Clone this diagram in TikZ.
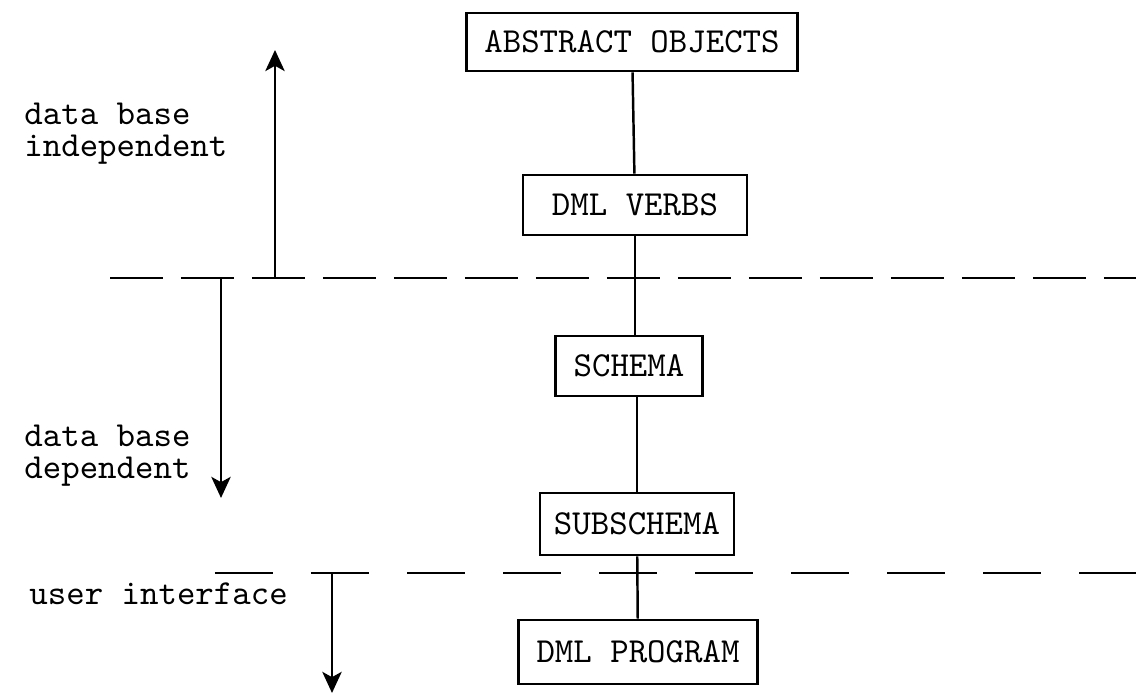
\documentclass[tikz,border=0pt]{standalone}
\usepackage{fontspec}
\usetikzlibrary{arrows.meta}

\newcommand{\typed}{\ttfamily\fontsize{10}{9.1}\selectfont}

\tikzset{
	tier/.style={draw, line width=0.8pt, minimum height=0.6cm, inner xsep=0.18cm, font=\typed},
	side/.style={anchor=base west, align=left, font=\typed},
	cutline/.style={line width=0.7pt},
	scopearrow/.style={line width=0.75pt, -{Stealth[length=6pt,width=5.5pt,inset=1.5pt]}}
}

\begin{document}
\begin{tikzpicture}
	\useasboundingbox (0,0) rectangle (11.36,6.94);
	\node[tier, minimum height=0.58cm] (abstract) at (6.32,6.52) {ABSTRACT OBJECTS};
	\node[tier, minimum width=2.24cm] (verbs) at (6.35,4.89) {DML VERBS};
	\node[tier] (schema) at (6.29,3.28) {SCHEMA};
	\node[tier, inner xsep=0.14cm, minimum height=0.62cm] (subschema) at (6.37,1.70) {SUBSCHEMA};
	\node[tier, minimum height=0.64cm] (program) at (6.38,0.42) {DML PROGRAM};
	\draw[line width=0.7pt] (abstract) -- (verbs);
	\draw[line width=0.7pt] (verbs) -- (verbs |- schema.north);
	\draw[line width=0.7pt] (subschema |- schema.south) -- (subschema);
	\draw[line width=0.7pt] (subschema) -- (program);
	\draw[cutline, dash pattern=on 0.53cm off 0.18cm] (1.10,4.16) -- (11.36,4.16);
	\draw[cutline, dash pattern=on 0.58cm off 0.38cm] (2.15,1.21) -- (11.36,1.21);
	\node[side] (indep) at (0.12,5.37) {data base\\independent};
	\node[side] (dep) at (0.12,2.15) {data base\\dependent};
	\node[side] (user) at (0.17,0.89) {user interface};
	\coordinate (indlow) at (2.75,4.16);
	\coordinate (indtop) at (2.75,6.44);
	\coordinate (deptop) at (2.21,4.16);
	\coordinate (deplow) at (2.21,1.96);
	\coordinate (usertop) at (3.32,1.21);
	\coordinate (userlow) at (3.32,0.01);
	\draw[scopearrow] (indlow) -- (indtop);
	\draw[scopearrow] (deptop) -- (deplow);
	\draw[scopearrow] (usertop) -- (userlow);
\end{tikzpicture}
\end{document}
